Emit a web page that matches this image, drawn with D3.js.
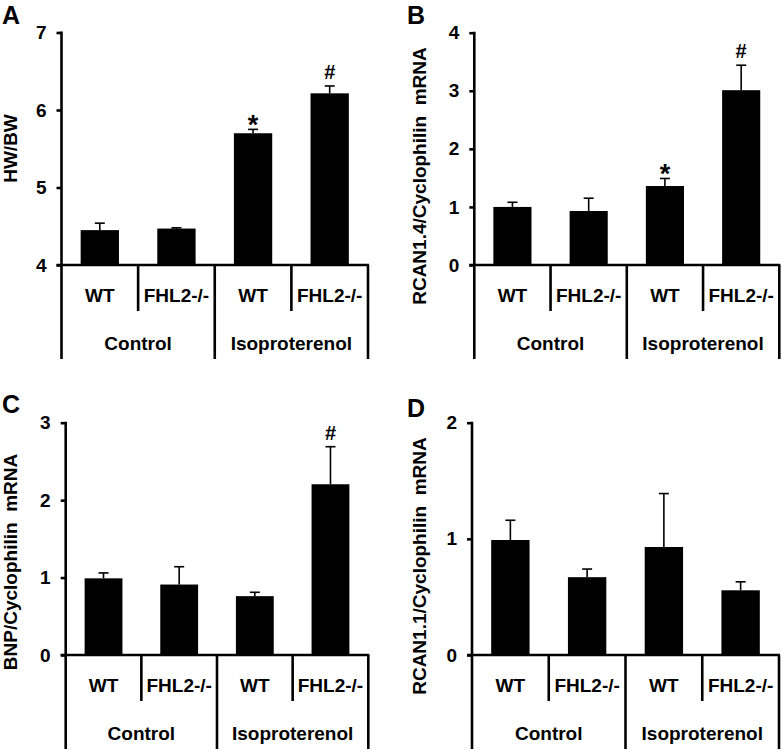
<!DOCTYPE html>
<html>
<head>
<meta charset="utf-8">
<script src="https://cdn.jsdelivr.net/npm/d3@7"></script>
<style>
  html, body { margin: 0; padding: 0; background: #fff; }
  svg { display: block; }
  text { font-family: "Liberation Sans", Arial, sans-serif; fill: #000; }
</style>
</head>
<body>
<svg id="chart" width="782" height="750"></svg>
<script>
// ---------- data ----------
const categories = ["WT", "FHL2-/-", "WT", "FHL2-/-"];
const groups = ["Control", "Isoproterenol"];
const panelLetters = ["A", "B", "C", "D"];
const yLabels = ["HW/BW", "RCAN1.4/Cyclophilin  mRNA", "BNP/Cyclophilin  mRNA", "RCAN1.1/Cyclophilin  mRNA"];
const yDomains = [[4, 7], [0, 4], [0, 3], [0, 2]];
const yTickValues = [[4, 5, 6, 7], [0, 1, 2, 3, 4], [0, 1, 2, 3], [0, 1, 2]];

const hwbwMean = [4.45, 4.47, 5.70, 6.215];
const hwbwErr  = [0.09, 0.01, 0.05, 0.095];
const rcan14Mean = [1.00, 0.93, 1.36, 3.01];
const rcan14Err  = [0.08, 0.22, 0.13, 0.43];
const bnpMean = [0.99, 0.91, 0.76, 2.205];
const bnpErr  = [0.07, 0.23, 0.05, 0.485];
const rcan11Mean = [0.99, 0.67, 0.93, 0.557];
const rcan11Err  = [0.17, 0.07, 0.46, 0.073];

const hwbwMarks   = ["", "", "*", "#"];
const rcan14Marks = ["", "", "*", "#"];
const bnpMarks    = ["", "", "", "#"];
const rcan11Marks = ["", "", "", ""];

const means = [hwbwMean, rcan14Mean, bnpMean, rcan11Mean];
const errs = [hwbwErr, rcan14Err, bnpErr, rcan11Err];
const marks = [hwbwMarks, rcan14Marks, bnpMarks, rcan11Marks];

// ---------- layout ----------
const frames = [
  { x0: 61.5, x1: 368, top: 32.5, base: 265, letterX: 2, letterY: 24, labX: 16.5, labY: 148.5 },
  { x0: 474.3, x1: 779.3, top: 32.7, base: 265, letterX: 407, letterY: 23.5, labX: 425.5, labY: 176 },
  { x0: 65.7, x1: 368.3, top: 422.7, base: 655, letterX: 2, letterY: 412.5, labX: 16.5, labY: 562 },
  { x0: 472, x1: 779, top: 422.7, base: 655, letterX: 407, letterY: 416.5, labX: 426, labY: 566 }
];

const FS = "19px";
const svg = d3.select("#chart");
const AXW = 2.6;

frames.forEach((f, p) => {
  const g = svg.append("g");
  const x = d3.scaleBand().domain(d3.range(categories.length)).range([f.x0, f.x1]).paddingInner(0).paddingOuter(0);
  const y = d3.scaleLinear().domain(yDomains[p]).range([f.base, f.top]);
  const bw = x.bandwidth() * 0.5;
  const shortBottom = f.base + 46;
  const longBottom = f.base + 94;

  // bars
  g.selectAll("rect.bar").data(means[p]).join("rect").attr("class", "bar")
    .attr("x", (d, i) => x(i) + (x.bandwidth() - bw) / 2)
    .attr("y", d => y(d))
    .attr("width", bw)
    .attr("height", d => y(yDomains[p][0]) - y(d))
    .attr("fill", "#000");

  // error bars (upper only)
  const eb = g.selectAll("g.err").data(means[p]).join("g").attr("class", "err");
  eb.append("line")
    .attr("x1", (d, i) => x(i) + x.bandwidth() / 2)
    .attr("x2", (d, i) => x(i) + x.bandwidth() / 2)
    .attr("y1", d => y(d))
    .attr("y2", (d, i) => y(d + errs[p][i]))
    .attr("stroke", "#000").attr("stroke-width", 1.6);
  eb.append("line")
    .attr("x1", (d, i) => x(i) + x.bandwidth() / 2 - 5)
    .attr("x2", (d, i) => x(i) + x.bandwidth() / 2 + 5)
    .attr("y1", (d, i) => y(d + errs[p][i]))
    .attr("y2", (d, i) => y(d + errs[p][i]))
    .attr("stroke", "#000").attr("stroke-width", 1.6);

  // significance marks
  g.selectAll("text.mark").data(means[p]).join("text").attr("class", "mark")
    .text((d, i) => marks[p][i])
    .attr("x", (d, i) => x(i) + x.bandwidth() / 2)
    .attr("y", (d, i) => marks[p][i] === "*" ? y(d + errs[p][i]) + 5 : y(d + errs[p][i]) - 7)
    .attr("text-anchor", "middle")
    .style("font-size", (d, i) => marks[p][i] === "*" ? "27px" : "20px")
    .style("font-weight", "bold");

  // y axis
  const yAxis = d3.axisLeft(y).tickValues(yTickValues[p]).tickFormat(d3.format("d")).tickSize(5).tickPadding(10);
  const ya = g.append("g").attr("transform", `translate(${f.x0},0)`).call(yAxis);
  ya.select(".domain").remove();
  ya.selectAll(".tick line").attr("stroke", "#000").attr("stroke-width", AXW);
  ya.selectAll(".tick text").style("font-size", FS).style("font-weight", "bold")
    .style("font-family", "'Liberation Sans', Arial, sans-serif");

  // y axis line, extending down through category area
  g.append("line").attr("x1", f.x0).attr("x2", f.x0).attr("y1", f.top - 1).attr("y2", longBottom)
    .attr("stroke", "#000").attr("stroke-width", AXW);
  // x axis baseline
  g.append("line").attr("x1", f.x0 - 5).attr("x2", f.x1 + 1).attr("y1", f.base).attr("y2", f.base)
    .attr("stroke", "#000").attr("stroke-width", AXW);

  // dividers
  categories.forEach((c, i) => {
    const xr = x(i) + x.bandwidth();
    const isGroupEnd = (i % 2 === 1);
    g.append("line").attr("x1", xr).attr("x2", xr).attr("y1", f.base)
      .attr("y2", isGroupEnd ? longBottom : shortBottom)
      .attr("stroke", "#000").attr("stroke-width", AXW);
  });

  // category labels
  g.selectAll("text.cat").data(categories).join("text").attr("class", "cat")
    .attr("x", (d, i) => x(i) + x.bandwidth() / 2)
    .attr("y", f.base + 37)
    .attr("text-anchor", "middle")
    .style("font-size", FS).style("font-weight", "bold")
    .text(d => d);

  // group labels
  g.selectAll("text.grp").data(groups).join("text").attr("class", "grp")
    .attr("x", (d, i) => (x(i * 2) + x(i * 2 + 1) + x.bandwidth()) / 2)
    .attr("y", f.base + 85)
    .attr("text-anchor", "middle")
    .style("font-size", FS).style("font-weight", "bold")
    .text(d => d);

  // y label
  g.append("text")
    .attr("transform", `translate(${f.labX},${f.labY}) rotate(-90)`)
    .attr("text-anchor", "middle")
    .style("font-size", FS).style("font-weight", "bold")
    .style("white-space", "pre")
    .text(yLabels[p]);

  // panel letter
  g.append("text")
    .attr("x", f.letterX).attr("y", f.letterY)
    .style("font-size", "25px").style("font-weight", "bold")
    .text(panelLetters[p]);
});
</script>
</body>
</html>
